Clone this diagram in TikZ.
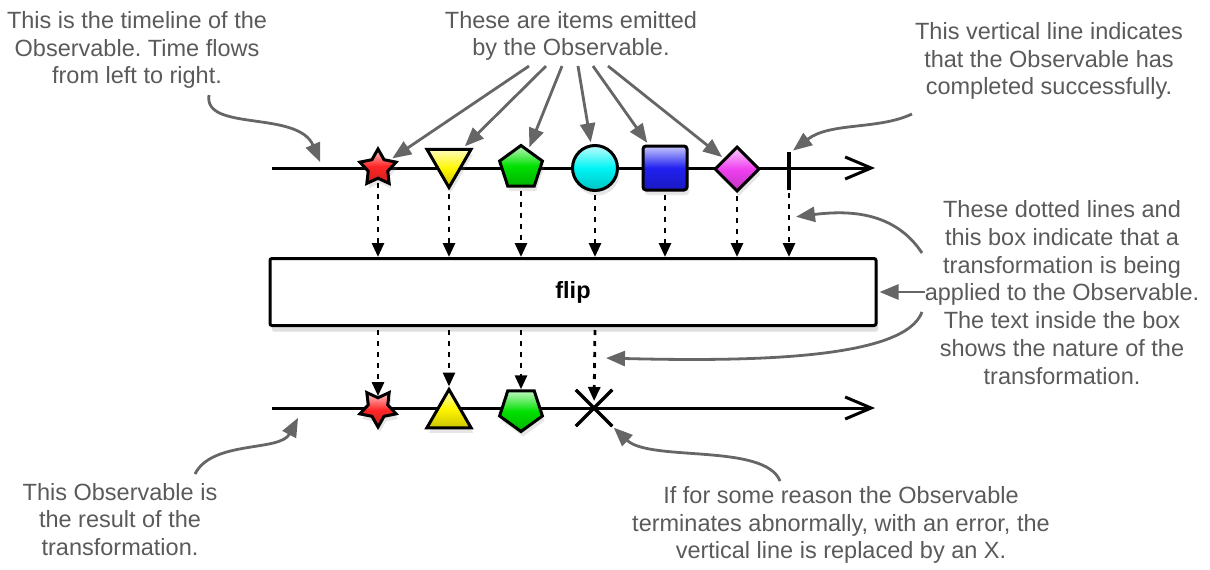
\documentclass[tikz,border=0pt]{standalone}
\usepackage{fontspec}
\setmainfont{Liberation Sans}
\usetikzlibrary{arrows.meta,shapes.geometric,shapes.misc,shadows}
\definecolor{notegray}{HTML}{666666}
\definecolor{textgray}{HTML}{5A5A5A}
\definecolor{starred}{HTML}{FF2626}
\definecolor{triyellow}{HTML}{FFF600}
\definecolor{pentgreen}{HTML}{00E000}
\definecolor{circcyan}{HTML}{00F4F4}
\definecolor{sqblue}{HTML}{2020F0}
\definecolor{diamagenta}{HTML}{F040F0}
\frenchspacing

\begin{document}
\begin{tikzpicture}[x=1pt,y=-1pt,
  item/.style={draw, line width=3pt, inner sep=0pt, top color=#1!25, bottom color=#1!80!black, middle color=#1,
    drop shadow={opacity=0.2, shadow xshift=2pt, shadow yshift=-5pt}},
  emit/.style={line width=2.8pt, dash pattern=on 5pt off 6pt, shorten <=3pt, -{Triangle[length=14pt,width=12pt]}},
  pointer/.style={notegray, line width=2.8pt, shorten >=2pt, -{Triangle[length=19pt,width=15pt]}},
  timeline/.style={line width=3pt, -{Straight Barb[length=26pt,width=22pt,line width=3pt]}},
  note/.style={align=center, inner sep=0pt, text=textgray, font=\fontsize{23.5pt}{27.8pt}\selectfont}]
  \useasboundingbox (0,0) rectangle (1210,570);

  % timelines
  \coordinate (in-s) at (272,168);
  \coordinate (in-e) at (875,168);
  \coordinate (out-s) at (272,408);
  \coordinate (out-e) at (875,408);
  \draw [timeline] (in-s) -- (in-e);
  \draw [timeline] (out-s) -- (out-e);

  % emitted items
  \node [item=starred, star, star points=5, star point ratio=1.85, minimum size=38pt] (star1) at (378,168) {};
  \node [item=triyellow, regular polygon, regular polygon sides=3, shape border rotate=180, minimum size=51pt] (tri1) at (449,162) {};
  \node [item=pentgreen, regular polygon, regular polygon sides=5, minimum size=45pt] (pent1) at (521,168) {};
  \node [item=circcyan, circle, minimum size=45pt] (circ1) at (595,168) {};
  \node [item=sqblue, rectangle, rounded corners=3pt, minimum size=44pt] (sq1) at (665,168) {};
  \node [item=diamagenta, diamond, minimum size=45pt] (dia1) at (737,169) {};
  \node [fill=black, inner sep=0pt, minimum width=4.5pt, minimum height=38pt] (done) at (789,171) {};

  \node [draw, line width=3pt, rounded corners=2pt, fill=white, minimum width=606pt, minimum height=67pt,
    drop shadow={opacity=0.25, shadow xshift=2pt, shadow yshift=-6pt},
    font=\fontsize{23.5pt}{28pt}\selectfont\bfseries] (flip) at (573,292) {flip};

  \node [item=starred, star, star points=5, star point ratio=1.85, shape border rotate=180, minimum size=38pt] (star2) at (378,408) {};
  \node [item=triyellow, regular polygon, regular polygon sides=3, minimum size=51pt] (tri2) at (449,415) {};
  \node [item=pentgreen, regular polygon, regular polygon sides=5, shape border rotate=180, minimum size=45pt] (pent2) at (521,409) {};
  \node [cross out, draw, line width=3.5pt, minimum size=33pt, inner sep=0pt] (err) at (594,408) {};

  \foreach \it in {star1,tri1,pent1,circ1,sq1,dia1,done}
    \draw [emit] (\it) -- (\it |- flip.north);
  \draw [emit] (star1 |- flip.south) -- (star2);
  \draw [emit] (tri1 |- flip.south) -- (tri2);
  \draw [emit] (pent1 |- flip.south) -- (pent2);
  \draw [emit, shorten >=7pt] (circ1 |- flip.south) -- (err.center);

  % notes
  \node [note] (n-line) at (137,50) {This is the timeline of the\\Observable. Time flows\\from left to right.};
  \node [note] (n-items) at (571,36) {These are items emitted\\by the Observable.};
  \node [note] (n-done) at (1049,61) {This vertical line indicates\\that the Observable has\\completed successfully.};
  \node [note] (n-op) at (1062,292.5) {These dotted lines and\\this box indicate that a\\transformation is being\\applied to the Observable.\\The text inside the box\\shows the nature of the\\transformation.};
  \node [note] (n-result) at (120,519.5) {This Observable is\\the result of the\\transformation.};
  \node [note] (n-err) at (841,525) {If for some reason the Observable\\terminates abnormally, with an error, the\\vertical line is replaced by an X.};

  \coordinate (c-line) at (209,95);
  \coordinate (p-line) at (321,164);
  \coordinate (c-done) at (912,114);
  \coordinate (c-dots) at (922,253);
  \coordinate (p-dots) at (794,217);
  \coordinate (c-box) at (922,312);
  \coordinate (p-box) at (604,358);
  \coordinate (c-result) at (195,474);
  \coordinate (p-result) at (299,416);
  \coordinate (c-err) at (780,481);

  \draw [pointer] (c-line) .. controls (203,132) and (298,110) .. (p-line);
  \foreach \dx/\it in {-42/star1,-25/tri1,-9/pent1,7/circ1,22/sq1,37/dia1}
    \draw [pointer] ([xshift=\dx pt, yshift=-5pt]n-items.south) -- (\it);
  \draw [pointer] (c-done) .. controls (878,130) and (830,122) .. (done.north east);
  \draw [pointer] (c-dots) .. controls (895,212) and (850,210) .. (p-dots);
  \draw [pointer] (n-op.west |- flip.east) -- (flip.east);
  \draw [pointer] (c-box) .. controls (905,358) and (760,362) .. (p-box);
  \draw [pointer] (c-result) .. controls (212,440) and (280,452) .. (p-result);
  \draw [pointer] (c-err) .. controls (765,443) and (650,462) .. (err.south east);
\end{tikzpicture}
\end{document}
